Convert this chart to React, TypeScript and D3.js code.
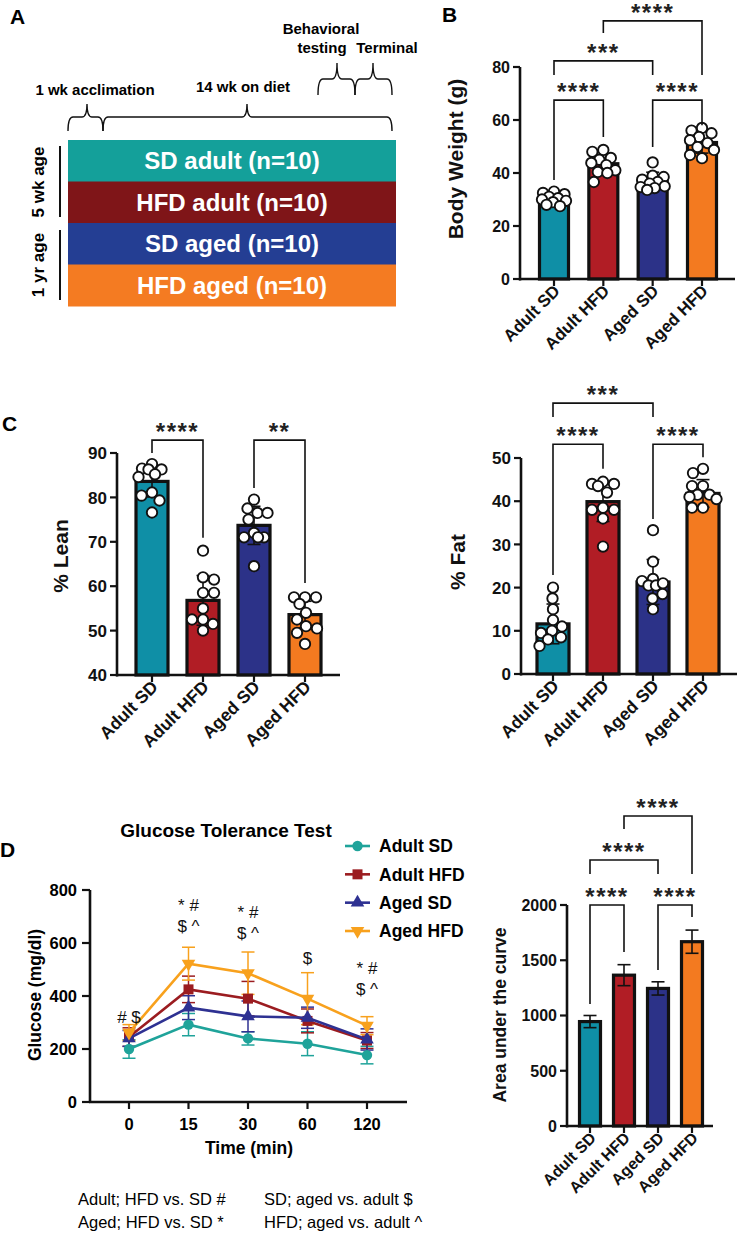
import React from 'react';
import * as d3 from 'd3';

const FONT = '"Liberation Sans", Arial, Helvetica, sans-serif';

// ---------- shared categories ----------
const groups = ['Adult SD', 'Adult HFD', 'Aged SD', 'Aged HFD'];
const barColors = ['#0f8fa6', '#b11d25', '#2c3288', '#f37a20'];
const lineColors = ['#1fa39a', '#9b1c20', '#2e3192', '#f8a11d'];

// ---------- Panel A ----------
const designRows = ['SD adult (n=10)', 'HFD adult (n=10)', 'SD aged (n=10)', 'HFD aged (n=10)'];
const designColors = ['#14a09a', '#7f1518', '#243e93', '#f47b22'];

// ---------- Panel B: body weight ----------
const bwMean = [30.5, 43.5, 36.8, 51.5];
const bwSD = [2.2, 3.5, 3.5, 4.0];
const bwAdultSD = [33, 32.5, 32, 31, 30.5, 30, 29.5, 29, 28, 27.5];
const bwAdultHFD = [48.7, 48, 45.7, 45, 43.8, 43, 41, 40.4, 40, 36.6];
const bwAgedSD = [44, 39, 38.5, 37.5, 36.6, 36, 35, 34.7, 34.3, 33.6];
const bwAgedHFD = [57, 56, 55, 53.6, 52.4, 51.3, 49.8, 48.7, 46.8, 45.6];
const bwTicks = [0, 20, 40, 60, 80];

// ---------- Panel C: % lean ----------
const leanMean = [83.6, 56.8, 73.7, 53.6];
const leanSD = [3.5, 5.6, 4.3, 3.0];
const leanAdultSD = [87.5, 86.5, 86.3, 86.3, 85.2, 84.6, 81.1, 80.4, 79.3, 76.6];
const leanAdultHFD = [68, 62, 61.5, 58.5, 58.5, 55, 52.5, 52.5, 51.5, 50];
const leanAgedSD = [79.5, 77.5, 76.5, 76.5, 75, 72, 71, 71, 71, 64.5];
const leanAgedHFD = [57.5, 57.5, 57.5, 56, 54, 52.5, 51, 50.5, 49.5, 47];
const leanTicks = [40, 50, 60, 70, 80, 90];

// ---------- Panel C: % fat ----------
const fatMean = [11.6, 39.9, 21.3, 41.8];
const fatSD = [4.6, 4.6, 5.2, 3.2];
const fatAdultSD = [20, 17.5, 15, 12.5, 11, 10, 9.5, 8.5, 8, 6.5];
const fatAdultHFD = [44.5, 44, 43.5, 44, 42, 38.5, 38, 38, 36, 29.5];
const fatAgedSD = [33.3, 26, 22, 21.5, 20.5, 20.5, 21, 18.5, 17.5, 15];
const fatAgedHFD = [47.5, 46.5, 43.5, 43.5, 41.5, 41.5, 41, 40.5, 38.5, 38.5];
const fatTicks = [0, 10, 20, 30, 40, 50];

// ---------- Panel D: GTT ----------
const gttTimes = ['0', '15', '30', '60', '120'];
const gttAdultSD = [200, 292, 240, 220, 177];
const gttAdultSDErr = [35, 42, 25, 45, 33];
const gttAdultHFD = [245, 425, 390, 306, 232];
const gttAdultHFDErr = [35, 50, 65, 45, 30];
const gttAgedSD = [240, 356, 323, 318, 236];
const gttAgedSDErr = [30, 45, 58, 40, 40];
const gttAgedHFD = [262, 522, 486, 390, 288];
const gttAgedHFDErr = [30, 62, 80, 98, 34];
const gttTicks = [0, 200, 400, 600, 800];
const gttAnnot: [string, string[]][] = [
  ['0', ['# $']],
  ['15', ['* #', '$ ^']],
  ['30', ['* #', '$ ^']],
  ['60', ['$']],
  ['120', ['* #', '$ ^']],
];
const gttAnnotLevel = [300, 640, 615, 520, 405];

// ---------- Panel D: AUC ----------
const aucMean = [945, 1365, 1245, 1668];
const aucSEM = [55, 95, 60, 105];
const aucTicks = [0, 500, 1000, 1500, 2000];

// brackets: [from, to, label, top, leftEnd, rightEnd] in data units
type Br = [number, number, string, number, number, number];
const bwBrackets: Br[] = [
  [0, 1, '****', 67.5, 37.4, 53.6],
  [2, 3, '****', 67.5, 49.8, 58.0],
  [0, 2, '***', 82.3, 77, 77],
  [1, 3, '****', 97.4, 92.8, 77],
];
const leanBrackets: Br[] = [
  [0, 1, '****', 92.9, 90, 70.9],
  [2, 3, '**', 92.9, 82.1, 60.7],
];
const fatBrackets: Br[] = [
  [0, 1, '****', 53.2, 22.9, 47.5],
  [2, 3, '****', 53.2, 35.9, 50.2],
  [0, 2, '***', 62.7, 59.5, 59.5],
];
const aucBrackets: Br[] = [
  [0, 1, '****', 2000, 1104, 1575],
  [2, 3, '****', 2000, 1412, 1891],
  [0, 2, '****', 2407, 2280, 2280],
  [1, 3, '****', 2805, 2688, 2280],
];

function swarm(vals: number[], y: (v: number) => number, r: number, lim: number): number[] {
  const idx = vals.map((_, i) => i).sort((a, b) => vals[b] - vals[a]);
  const placed: { x: number; y: number }[] = [];
  const out = new Array(vals.length).fill(0);
  const d = 2 * r + 0.4;
  let flip = 1;
  for (const i of idx) {
    const yi = y(vals[i]);
    let best = 0;
    let bestScore = -Infinity;
    let found = false;
    for (let k = 0; k <= lim * 2 && !found; k++) {
      const cands = k === 0 ? [0] : [flip * k * 0.5, -flip * k * 0.5];
      for (const cx of cands) {
        if (Math.abs(cx) > lim) continue;
        const md = placed.length ? Math.min(...placed.map((p) => Math.hypot(p.x - cx, p.y - yi))) : Infinity;
        if (md >= d) { best = cx; found = true; break; }
        if (md > bestScore + 0.01) { bestScore = md; best = cx; }
      }
    }
    flip = -flip;
    placed.push({ x: best, y: yi });
    out[i] = best;
  }
  return out;
}

function Bracket({ x1, x2, top, yl, yr, label, size = 24 }: any) {
  return (
    <g>
      <path d={`M${x1},${yl}V${top}H${x2}V${yr}`} fill="none" stroke="#111" strokeWidth={1.6} />
      <text x={(x1 + x2) / 2} y={top - 12 + size * 0.5} textAnchor="middle" fontSize={size} fontWeight="bold" letterSpacing={1.5} fill="#222">
        {label}
      </text>
    </g>
  );
}

type BarCfg = {
  axisX: number;
  axisEnd: number;
  yDomain: [number, number];
  yRange: [number, number];
  ticks: number[];
  centers: [number, number];
  barW: number;
  means: number[];
  errs: number[];
  dots?: number[][];
  brackets: Br[];
  title: string;
  titleX: number;
  titleY: number;
  titleSize: number;
  tickSize: number;
  catSize: number;
};

function BarPanel({ cfg }: { cfg: BarCfg }) {
  const y = d3.scaleLinear().domain(cfg.yDomain).range(cfg.yRange);
  const x = d3.scalePoint<string>().domain(groups).range(cfg.centers);
  const y0 = cfg.yRange[0];
  const r = 5.2;
  return (
    <g>
      {groups.map((g, i) => (
        <rect key={g} x={x(g)! - cfg.barW / 2} y={y(cfg.means[i])} width={cfg.barW} height={y0 - y(cfg.means[i])} fill={barColors[i]} stroke="#111" strokeWidth={3.2} />
      ))}
      {groups.map((g, i) => {
        const cx = x(g)!;
        const hi = y(cfg.means[i] + cfg.errs[i]);
        const lo = y(cfg.means[i] - cfg.errs[i]);
        const cw = 6.5;
        return (
          <g key={g} stroke="#111" strokeWidth={1.6}>
            <line x1={cx} x2={cx} y1={hi} y2={lo} />
            <line x1={cx - cw} x2={cx + cw} y1={hi} y2={hi} />
            <line x1={cx - cw} x2={cx + cw} y1={lo} y2={lo} />
          </g>
        );
      })}
      {cfg.dots &&
        cfg.dots.map((vals, i) => {
          const offs = swarm(vals, y, r, cfg.barW / 2 - 2.5);
          return vals.map((v, j) => (
            <circle key={`${i}-${j}`} cx={x(groups[i])! + offs[j]} cy={y(v)} r={r} fill="#fff" stroke="#111" strokeWidth={1.9} />
          ));
        })}
      <line x1={cfg.axisX} x2={cfg.axisX} y1={y0 + 1.5} y2={cfg.yRange[1]} stroke="#111" strokeWidth={2.6} />
      <line x1={cfg.axisX - 1} x2={cfg.axisEnd} y1={y0} y2={y0} stroke="#111" strokeWidth={2.6} />
      {cfg.ticks.map((t) => (
        <g key={t}>
          <line x1={cfg.axisX - 7} x2={cfg.axisX} y1={y(t)} y2={y(t)} stroke="#111" strokeWidth={2.2} />
          <text x={cfg.axisX - 10} y={y(t)} dy="0.36em" textAnchor="end" fontSize={cfg.tickSize} fontWeight="bold" fill="#111">
            {t}
          </text>
        </g>
      ))}
      {groups.map((g) => (
        <g key={g}>
          <line x1={x(g)} x2={x(g)} y1={y0} y2={y0 + 7} stroke="#111" strokeWidth={2.2} />
          <text transform={`translate(${x(g)! + 7},${y0 + 13}) rotate(-45)`} textAnchor="end" fontSize={cfg.catSize} fontWeight="bold" fill="#111">
            {g}
          </text>
        </g>
      ))}
      <text transform={`translate(${cfg.titleX},${cfg.titleY}) rotate(-90)`} textAnchor="middle" dy="0.36em" fontSize={cfg.titleSize} fontWeight="bold" fill="#111">
        {cfg.title}
      </text>
      {cfg.brackets.map((b, k) => (
        <Bracket key={k} x1={x(groups[b[0]])} x2={x(groups[b[1]])} top={y(b[3])} yl={y(b[4])} yr={y(b[5])} label={b[2]} />
      ))}
    </g>
  );
}

function brace(x1: number, x2: number, xm: number, ye: number, ym: number, yt: number) {
  const c = 5;
  return `M${x1},${ye} Q${x1},${ym} ${x1 + c},${ym} L${xm - c},${ym} Q${xm},${ym} ${xm},${yt} Q${xm},${ym} ${xm + c},${ym} L${x2 - c},${ym} Q${x2},${ym} ${x2},${ye}`;
}

function PanelA() {
  const rowY = d3.scaleBand<string>().domain(designRows).range([140, 306]).padding(0);
  return (
    <g>
      <text x={10} y={24} fontSize={21} fontWeight="bold">A</text>
      {designRows.map((rw, i) => (
        <g key={rw}>
          <rect x={68} y={rowY(rw)} width={328} height={rowY.bandwidth() + 0.5} fill={designColors[i]} />
          <text x={232} y={rowY(rw)! + rowY.bandwidth() / 2} dy="0.36em" textAnchor="middle" fill="#fff" fontSize={24} fontWeight="bold">
            {rw}
          </text>
        </g>
      ))}
      <line x1={60} x2={60} y1={146} y2={217} stroke="#111" strokeWidth={2} />
      <line x1={60} x2={60} y1={230} y2={300} stroke="#111" strokeWidth={2} />
      <text transform="translate(38,182) rotate(-90)" textAnchor="middle" dy="0.36em" fontSize={17} fontWeight="bold">5 wk age</text>
      <text transform="translate(38,265) rotate(-90)" textAnchor="middle" dy="0.36em" fontSize={17} fontWeight="bold">1 yr age</text>
      <g fill="none" stroke="#111" strokeWidth={1.4}>
        <path d={brace(68, 103, 87, 131, 117, 104)} />
        <path d={brace(103, 392, 247, 131, 117, 104)} />
        <path d={brace(318, 355, 337, 95, 79, 63)} />
        <path d={brace(355, 392, 373, 95, 79, 63)} />
      </g>
      <g fontSize={15} fontWeight="bold" textAnchor="middle">
        <text x={95} y={95}>1 wk acclimation</text>
        <text x={243} y={92}>14 wk on diet</text>
        <text x={321} y={34}>Behavioral</text>
        <text x={322} y={53}>testing</text>
        <text x={387} y={53}>Terminal</text>
      </g>
    </g>
  );
}

function PanelGTT() {
  const x = d3.scalePoint<string>().domain(gttTimes).range([129, 367]);
  const y = d3.scaleLinear().domain([0, 800]).range([1102, 890]);
  const series = [
    { name: 'Adult SD', vals: gttAdultSD, err: gttAdultSDErr, sym: d3.symbolCircle, size: 85, rot: 0 },
    { name: 'Adult HFD', vals: gttAdultHFD, err: gttAdultHFDErr, sym: d3.symbolSquare, size: 100, rot: 0 },
    { name: 'Aged SD', vals: gttAgedSD, err: gttAgedSDErr, sym: d3.symbolTriangle, size: 80, rot: 0 },
    { name: 'Aged HFD', vals: gttAgedHFD, err: gttAgedHFDErr, sym: d3.symbolTriangle, size: 80, rot: 180 },
  ];
  const line = d3.line<number>().x((_, i) => x(gttTimes[i])!).y((v) => y(v));
  const legendY = d3.scalePoint<string>().domain(series.map((s) => s.name)).range([846, 931]);
  return (
    <g>
      <text x={0} y={857} fontSize={21} fontWeight="bold">D</text>
      <text x={226} y={830} dy="0.36em" textAnchor="middle" fontSize={19} fontWeight="bold">Glucose Tolerance Test</text>
      {series.map((s, si) => (
        <g key={s.name}>
          {s.vals.map((v, i) => {
            const cx = x(gttTimes[i])!;
            return (
              <g key={i} stroke={lineColors[si]} strokeWidth={1.5}>
                <line x1={cx} x2={cx} y1={y(v + s.err[i])} y2={y(v - s.err[i])} />
                <line x1={cx - 6.5} x2={cx + 6.5} y1={y(v + s.err[i])} y2={y(v + s.err[i])} />
                <line x1={cx - 6.5} x2={cx + 6.5} y1={y(v - s.err[i])} y2={y(v - s.err[i])} />
              </g>
            );
          })}
        </g>
      ))}
      {series.map((s, si) => (
        <g key={s.name}>
          <path d={line(s.vals)!} fill="none" stroke={lineColors[si]} strokeWidth={2.6} />
          {s.vals.map((v, i) => (
            <path key={i} d={d3.symbol().type(s.sym).size(s.size)()!} transform={`translate(${x(gttTimes[i])},${y(v)}) rotate(${s.rot})`} fill={lineColors[si]} />
          ))}
        </g>
      ))}
      <line x1={90} x2={90} y1={1103} y2={890} stroke="#111" strokeWidth={2.6} />
      <line x1={89} x2={407} y1={1102} y2={1102} stroke="#111" strokeWidth={2.6} />
      {gttTicks.map((t) => (
        <g key={t}>
          <line x1={82} x2={90} y1={y(t)} y2={y(t)} stroke="#111" strokeWidth={2.2} />
          <text x={77} y={y(t)} dy="0.36em" textAnchor="end" fontSize={16.5} fontWeight="bold">{t}</text>
        </g>
      ))}
      {gttTimes.map((t) => (
        <g key={t}>
          <line x1={x(t)} x2={x(t)} y1={1102} y2={1109} stroke="#111" strokeWidth={2.2} />
          <text x={x(t)} y={1124} dy="0.36em" textAnchor="middle" fontSize={16.5} fontWeight="bold">{t}</text>
        </g>
      ))}
      <text x={249} y={1148} dy="0.36em" textAnchor="middle" fontSize={17.5} fontWeight="bold">Time (min)</text>
      <text transform="translate(35,995) rotate(-90)" textAnchor="middle" dy="0.36em" fontSize={17.5} fontWeight="bold">Glucose (mg/dl)</text>
      {gttAnnot.map(([t, lines], k) => (
        <g key={t}>
          {lines.map((ln, j) => (
            <text key={j} x={x(t)} y={y(gttAnnotLevel[k]) - (lines.length - 1 - j) * 21} textAnchor="middle" fontSize={17} fill="#111">
              {ln}
            </text>
          ))}
        </g>
      ))}
      {series.map((s, si) => (
        <g key={s.name} transform={`translate(0,${legendY(s.name)})`}>
          <line x1={345} x2={370} y1={0} y2={0} stroke={lineColors[si]} strokeWidth={2.6} />
          <path d={d3.symbol().type(s.sym).size(s.size)()!} transform={`translate(357.5,0) rotate(${s.rot})`} fill={lineColors[si]} />
          <text x={379} y={0} dy="0.36em" fontSize={17.5} fontWeight="bold">{s.name}</text>
        </g>
      ))}
      <g fontSize={16.5}>
        <text x={78} y={1199} dy="0.36em">Adult; HFD vs. SD #</text>
        <text x={78} y={1222} dy="0.36em">Aged; HFD vs. SD *</text>
        <text x={264} y={1199} dy="0.36em">SD; aged vs. adult $</text>
        <text x={264} y={1222} dy="0.36em">HFD; aged vs. adult ^</text>
      </g>
    </g>
  );
}

export default function App() {
  const bCfg: BarCfg = {
    axisX: 520, axisEnd: 735, yDomain: [0, 80], yRange: [279, 67], ticks: bwTicks,
    centers: [554, 702], barW: 29, means: bwMean, errs: bwSD,
    dots: [bwAdultSD, bwAdultHFD, bwAgedSD, bwAgedHFD], brackets: bwBrackets,
    title: 'Body Weight (g)', titleX: 455, titleY: 159, titleSize: 21, tickSize: 16, catSize: 17,
  };
  const leanCfg: BarCfg = {
    axisX: 117, axisEnd: 340, yDomain: [40, 90], yRange: [675, 453], ticks: leanTicks,
    centers: [152, 305], barW: 32, means: leanMean, errs: leanSD,
    dots: [leanAdultSD, leanAdultHFD, leanAgedSD, leanAgedHFD], brackets: leanBrackets,
    title: '% Lean', titleX: 60, titleY: 556, titleSize: 21, tickSize: 17, catSize: 17.5,
  };
  const fatCfg: BarCfg = {
    axisX: 521, axisEnd: 737, yDomain: [0, 50], yRange: [674, 458], ticks: fatTicks,
    centers: [553, 703], barW: 32, means: fatMean, errs: fatSD,
    dots: [fatAdultSD, fatAdultHFD, fatAgedSD, fatAgedHFD], brackets: fatBrackets,
    title: '% Fat', titleX: 457, titleY: 562, titleSize: 21, tickSize: 17, catSize: 17.5,
  };
  const aucCfg: BarCfg = {
    axisX: 567, axisEnd: 713, yDomain: [0, 2000], yRange: [1126, 905], ticks: aucTicks,
    centers: [590, 692], barW: 21, means: aucMean, errs: aucSEM,
    brackets: aucBrackets,
    title: 'Area under the curve', titleX: 500, titleY: 1015, titleSize: 17.5, tickSize: 16, catSize: 16,
  };
  return (
    <svg width={737} height={1240} viewBox="0 0 737 1240" style={{ position: 'absolute', left: 0, top: 0, background: '#fff' }} fontFamily={FONT}>
      <rect width={737} height={1240} fill="#fff" />
      <PanelA />
      <text x={442} y={22} fontSize={21} fontWeight="bold">B</text>
      <BarPanel cfg={bCfg} />
      <text x={2} y={431} fontSize={21} fontWeight="bold">C</text>
      <BarPanel cfg={leanCfg} />
      <BarPanel cfg={fatCfg} />
      <PanelGTT />
      <BarPanel cfg={aucCfg} />
    </svg>
  );
}
